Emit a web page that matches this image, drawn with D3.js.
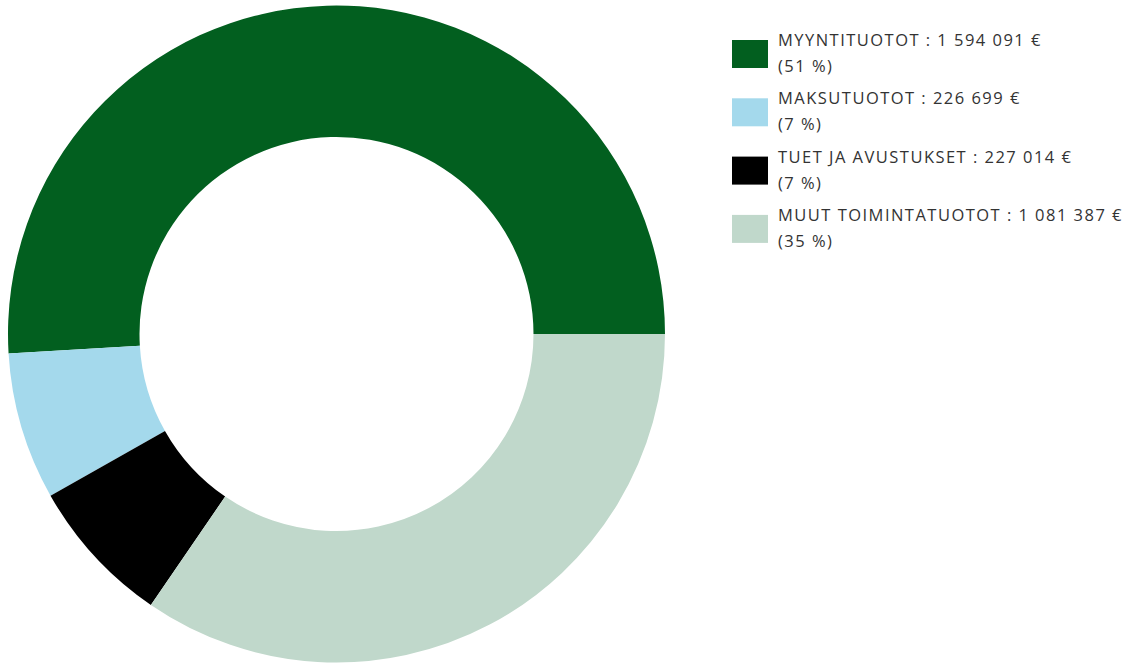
<!DOCTYPE html>
<html>
<head>
<meta charset="utf-8">
<script src="https://cdn.jsdelivr.net/npm/d3@7"></script>
<style>
  html, body { margin: 0; padding: 0; background: #ffffff; }
  svg { display: block; }
</style>
</head>
<body>
<svg id="chart" width="1132" height="663"></svg>
<script>
const categories = ["MYYNTITUOTOT", "MAKSUTUOTOT", "TUET JA AVUSTUKSET", "MUUT TOIMINTATUOTOT"];
const values = [1594091, 226699, 227014, 1081387];
const valueLabels = ["1 594 091 €", "226 699 €", "227 014 €", "1 081 387 €"];
const percentLabels = ["51 %", "7 %", "7 %", "35 %"];
const colors = ["#025F1F", "#A4D9EC", "#000000", "#C0D8CB"];

const data = categories.map((c, i) => ({ name: c, value: values[i], vl: valueLabels[i], pl: percentLabels[i], color: colors[i] }));

const svg = d3.select("#chart");
const cx = 336.5, cy = 334, outerR = 328.5, innerR = 197;

const pie = d3.pie().sort(null).value(d => d.value)
  .startAngle(Math.PI / 2).endAngle(Math.PI / 2 - 2 * Math.PI);
const arc = d3.arc().innerRadius(innerR).outerRadius(outerR);

svg.append("g").attr("transform", `translate(${cx},${cy})`)
  .selectAll("path").data(pie(data)).join("path")
  .attr("d", arc).attr("fill", d => d.data.color);

const legend = svg.append("g").attr("transform", "translate(732,40)");
const step = 58.3;
const item = legend.selectAll("g").data(data).join("g")
  .attr("transform", (d, i) => `translate(0,${i * step})`);
item.append("rect").attr("width", 36).attr("height", 28).attr("fill", d => d.color);
const txt = item.append("text")
  .style("font-family", "'Open Sans', sans-serif").style("font-size", "16.5px").attr("fill", "#333");
const line1 = txt.append("tspan").attr("x", 46).attr("y", 6).text(d => `${d.name} : ${d.vl}`);
txt.append("tspan").attr("x", 46).attr("y", 32).text(d => `(${d.pl})`);

// spread letters so that the longest label matches the original width
const longest = line1.nodes()[3];
const w = longest.getComputedTextLength();
const n = longest.textContent.length;
const ls = Math.max(0, (345 - w) / n);
txt.style("letter-spacing", ls + "px");
</script>
</body>
</html>
